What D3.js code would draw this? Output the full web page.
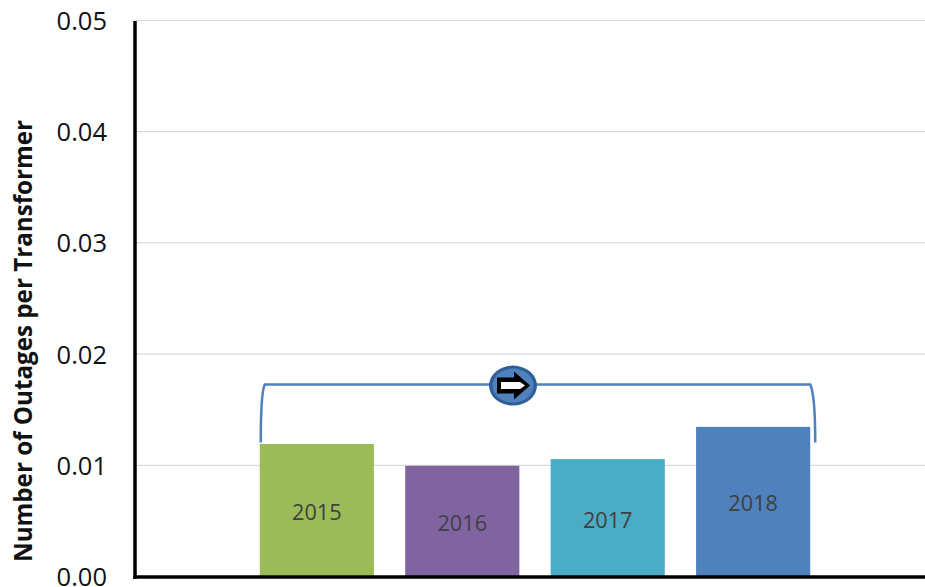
<!DOCTYPE html>
<html><head><meta charset="utf-8">
<script src="https://cdn.jsdelivr.net/npm/d3@7"></script>
<style>html,body{margin:0;padding:0;background:#fff}svg{display:block}text{font-family:"Open Sans",sans-serif}</style>
</head><body><div id="c"></div>
<script>
const years = ["2015","2016","2017","2018"];
const values = [0.01196,0.01,0.0106,0.0135];
const barColors = ["#9bbb59","#8064a2","#4bacc6","#4f81bd"];
const yTicks = [0,0.01,0.02,0.03,0.04,0.05];
const yTitle = "Number of Outages per Transformer";
const bracketTop = 0.0173, bracketEnd = 0.0121;

const W=925,H=587;
const svg=d3.select("#c").append("svg").attr("width",W).attr("height",H);
const y=d3.scaleLinear().domain([0,0.05]).range([577,21]);
const x=d3.scaleBand().domain(years).range([244.5,825.5]).paddingInner(0.215).paddingOuter(0.105);
const axisL=135;

svg.append("g").selectAll("line").data(yTicks.slice(1)).join("line")
 .attr("x1",axisL).attr("x2",W).attr("y1",d=>y(d)-0.5).attr("y2",d=>y(d)-0.5)
 .attr("stroke","#d9d9d9").attr("stroke-width",1.2);

svg.append("g").selectAll("rect").data(years).join("rect")
 .attr("x",d=>x(d)).attr("width",x.bandwidth())
 .attr("y",(d,i)=>y(values[i])).attr("height",(d,i)=>y(0)-y(values[i]))
 .attr("fill",(d,i)=>barColors[i]);

svg.append("g").selectAll("text").data(years).join("text")
 .attr("x",d=>x(d)+x.bandwidth()/2)
 .attr("y",(d,i)=>(y(values[i])+y(0))/2+1)
 .attr("text-anchor","middle").attr("dominant-baseline","central")
 .attr("font-size",21.7).attr("fill","#404040").text(d=>d);

const axisG=svg.append("g");
axisG.append("line").attr("x1",axisL).attr("x2",axisL).attr("y1",y(0.05)).attr("y2",y(0)+2).attr("stroke","#000").attr("stroke-width",3.5);
axisG.append("line").attr("x1",axisL-1.5).attr("x2",W).attr("y1",y(0)).attr("y2",y(0)).attr("stroke","#000").attr("stroke-width",3.5);

svg.append("g").selectAll("text").data(yTicks).join("text")
 .attr("x",107).attr("y",d=>y(d)-1).attr("text-anchor","end").attr("dominant-baseline","central")
 .attr("font-size",25.5).attr("fill","#111").text(d=>d3.format(".2f")(d));

svg.append("text").attr("transform","translate(22,341) rotate(-90)")
 .attr("text-anchor","middle").attr("dominant-baseline","central")
 .attr("font-size",24.2).attr("font-weight",700).attr("fill","#111").text(yTitle);

const bl=x("2015")+1, br=x("2018")+x.bandwidth()+5, bt=y(bracketTop), be=y(bracketEnd);
svg.append("path").attr("fill","none").attr("stroke","#4f81bd").attr("stroke-width",2.5)
 .attr("d",`M${bl},${be} C${bl},${be-30} ${bl+1},${bt+6} ${bl+4},${bt} L${br-5},${bt} C${br-2},${bt+6} ${br},${be-30} ${br},${be}`);

const cx=(x("2016")+x("2017")+x.bandwidth())/2-22, cy=bt+1;
const g=svg.append("g").attr("transform",`translate(${cx},${cy})`);
g.append("ellipse").attr("rx",24).attr("ry",20).attr("fill","#2f5f96");
g.append("ellipse").attr("rx",20.5).attr("ry",17).attr("fill","#4f81bd");
g.append("path").attr("fill","#000").attr("d","M-16,-8 L1,-8 L1,-14 L17,0 L1,14 L1,8 L-16,8 Z");
g.append("path").attr("fill","#fff").attr("d","M-12,-3.5 L7,-3.5 L12,0 L7,3.5 L-12,3.5 Z");
</script></body></html>
